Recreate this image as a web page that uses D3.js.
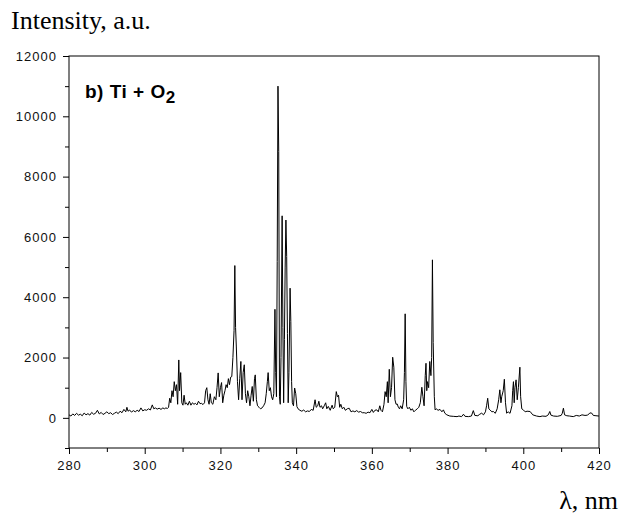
<!DOCTYPE html>
<html>
<head>
<meta charset="utf-8">
<script src="https://cdn.jsdelivr.net/npm/d3@7"></script>
<style>
  body { margin: 0; background: #fff; }
  svg { display: block; }
  .tick text { font-family: "Liberation Sans", Arial, sans-serif; font-size: 13px; letter-spacing: 1px; fill: #111; }
</style>
</head>
<body>
<svg id="chart" width="623" height="515"></svg>
<script>
// emission spectrum (nm, a.u.)
var wavelength = [
  280.0, 280.5, 281.0, 281.5, 282.0, 282.5, 283.0, 283.5, 284.0, 284.5,
  285.0, 285.5, 286.0, 286.5, 287.0, 287.5, 288.0, 288.5, 289.0, 289.5,
  290.0, 290.5, 291.0, 291.5, 292.0, 292.5, 293.0, 293.5, 294.0, 294.5,
  295.0, 295.3, 295.6, 296.0, 296.5, 297.0, 297.5, 298.0, 298.5, 299.0,
  299.5, 300.0, 300.5, 301.0, 301.5, 302.0, 302.4, 302.8, 303.3, 303.8,
  304.3, 304.8, 305.2, 305.6, 306.0, 306.3, 306.6, 306.9, 307.2, 307.5,
  307.8, 308.1, 308.4, 308.7, 309.0, 309.2, 309.5, 309.8, 310.1, 310.4,
  310.7, 311.0, 311.4, 311.8, 312.2, 312.6, 313.0, 313.4, 313.8, 314.2,
  314.6, 315.0, 315.4, 315.8, 316.1, 316.4, 316.7, 317.0, 317.3, 317.6,
  318.0, 318.4, 318.8, 319.1, 319.4, 319.7, 320.0, 320.3, 320.6, 320.9,
  321.2, 321.5, 321.8, 322.1, 322.4, 322.7, 323.0, 323.3, 323.6, 323.8,
  324.0, 324.2, 324.5, 324.8, 325.1, 325.4, 325.7, 326.0, 326.3, 326.6,
  326.9, 327.2, 327.5, 327.8, 328.1, 328.4, 328.7, 329.0, 329.2, 329.5,
  329.8, 330.2, 330.6, 331.0, 331.4, 331.8, 332.1, 332.4, 332.6, 332.9,
  333.2, 333.5, 333.8, 334.1, 334.4, 334.6, 334.8, 335.0, 335.2, 335.4,
  335.6, 335.8, 336.0, 336.3, 336.5, 336.7, 336.9, 337.1, 337.3, 337.5,
  337.7, 337.9, 338.1, 338.4, 338.6, 338.8, 339.0, 339.3, 339.6, 339.9,
  340.2, 340.5, 341.0, 341.5, 342.0, 342.5, 343.0, 343.5, 344.0, 344.5,
  345.0, 345.3, 345.7, 346.0, 346.3, 346.7, 347.0, 347.5, 347.8, 348.1,
  348.5, 349.0, 349.5, 349.8, 350.2, 350.6, 350.9, 351.2, 351.5, 351.8,
  352.2, 352.6, 353.0, 353.5, 354.0, 354.5, 355.0, 355.5, 356.0, 356.5,
  357.0, 357.5, 358.0, 358.5, 359.0, 359.5, 360.0, 360.4, 360.8, 361.3,
  361.7, 362.1, 362.4, 362.8, 363.2, 363.5, 363.8, 364.1, 364.3, 364.6,
  364.9, 365.2, 365.5, 365.8, 366.1, 366.4, 366.7, 367.0, 367.3, 367.6,
  368.0, 368.4, 368.6, 368.8, 369.0, 369.2, 369.5, 369.9, 370.3, 370.7,
  371.1, 371.5, 372.0, 372.4, 372.8, 373.2, 373.5, 373.8, 374.1, 374.3,
  374.5, 374.7, 375.0, 375.3, 375.6, 375.8, 376.0, 376.2, 376.5, 376.7,
  377.0, 377.5, 378.0, 378.5, 378.9, 379.3, 379.8, 380.6, 381.5, 382.5,
  383.0, 383.7, 384.2, 384.6, 385.5, 386.3, 386.8, 387.2, 388.0, 388.5,
  389.0, 389.5, 390.0, 390.3, 390.6, 390.9, 391.2, 391.7, 392.1, 392.6,
  393.1, 393.5, 393.8, 394.1, 394.3, 394.7, 395.0, 395.3, 395.6, 396.0,
  396.5, 397.0, 397.2, 397.4, 397.6, 397.8, 398.1, 398.4, 398.7, 399.1,
  399.3, 399.6, 400.0, 400.5, 401.0, 401.8, 402.5, 403.5, 404.4, 405.0,
  406.0, 406.6, 407.0, 407.3, 408.0, 409.0, 410.0, 410.3, 410.6, 410.9,
  411.5, 412.2, 413.2, 414.0, 414.8, 415.5, 416.3, 417.0, 417.6, 418.1,
  418.5, 419.2, 420.0
];
var intensity = [
  100, 60, 130, 80, 150, 90, 120, 70, 160, 100,
  140, 90, 180, 120, 150, 250, 130, 180, 110, 150,
  200, 140, 170, 110, 150, 190, 140, 220, 170, 280,
  200, 350, 220, 260, 190, 240, 200, 250, 210, 330,
  230, 270, 250, 300, 260, 430, 300, 330, 290, 320,
  280, 330, 300, 330, 310, 350, 650, 500, 900, 700,
  1200, 900, 1100, 450, 1920, 900, 1500, 500, 420, 750,
  450, 500, 420, 550, 420, 500, 450, 480, 430, 550,
  470, 480, 440, 500, 900, 1000, 600, 450, 800, 500,
  450, 700, 600, 1000, 1490, 700, 1000, 1170, 500, 750,
  900, 1100, 1000, 1300, 1100, 1350, 1370, 2000, 2900, 5050,
  3000, 2350, 1200, 600, 1300, 1870, 600, 1500, 1760, 800,
  500, 900, 700, 400, 750, 1040, 550, 1300, 1425, 600,
  400, 350, 300, 330, 400, 500, 800, 1200, 1500, 900,
  1000, 700, 600, 800, 3600, 1500, 700, 5180, 11000, 8830,
  700, 450, 2000, 6700, 3000, 500, 2600, 5000, 6560, 5350,
  2800, 500, 1500, 4300, 3190, 1200, 500, 400, 990, 800,
  375, 300, 250, 220, 260, 200, 230, 210, 280, 250,
  600, 350, 400, 550, 350, 400, 300, 420, 500, 300,
  380, 250, 420, 300, 350, 870, 700, 750, 350, 450,
  300, 350, 250, 300, 320, 200, 230, 200, 240, 190,
  210, 170, 170, 150, 190, 170, 280, 180, 250, 265,
  200, 400, 250, 200, 450, 870, 700, 1200, 500, 1610,
  700, 1000, 2010, 1680, 600, 450, 460, 350, 300, 400,
  300, 600, 1500, 3450, 1200, 380, 300, 350, 250, 300,
  200, 250, 300, 350, 500, 1015, 700, 400, 1400, 1810,
  900, 1200, 1000, 1870, 1400, 2000, 5240, 2500, 700, 265,
  300, 250, 280, 200, 265, 150, 100, 60, 50, 40,
  60, 40, 120, 50, 40, 60, 240, 80, 70, 120,
  155, 100, 200, 400, 650, 300, 265, 200, 210, 150,
  300, 600, 930, 500, 700, 900, 1280, 500, 155, 200,
  150, 400, 900, 1200, 500, 1000, 1260, 600, 1000, 1680,
  700, 300, 265, 200, 220, 210, 100, 60, 40, 60,
  50, 100, 210, 90, 60, 50, 80, 150, 320, 100,
  70, 60, 40, 80, 60, 100, 80, 90, 165, 155,
  80, 70, 60
];

var xTicks = [280, 300, 320, 340, 360, 380, 400, 420];
var xMinor = [290, 310, 330, 350, 370, 390, 410];
var yTicks = [0, 2000, 4000, 6000, 8000, 10000, 12000];
var yMinor = [-1000, 1000, 3000, 5000, 7000, 9000, 11000];

var margin = {left: 69, top: 56, right: 24, bottom: 67};
var width = 623 - margin.left - margin.right;
var height = 515 - margin.top - margin.bottom;

var svg = d3.select("#chart");
var g = svg.append("g")
  .attr("transform", "translate(" + margin.left + "," + margin.top + ")");

var x = d3.scaleLinear().domain([280, 420]).range([0, width]);
var y = d3.scaleLinear().domain([-1000, 12000]).range([height, 0]);

// minor ticks first, then the labelled ones on top
g.append("g")
  .attr("transform", "translate(0," + height + ")")
  .call(d3.axisBottom(x).tickValues(xMinor).tickSize(4).tickFormat(""))
  .call(function(a) { a.select(".domain").remove(); });

g.append("g")
  .call(d3.axisLeft(y).tickValues(yMinor).tickSize(4).tickFormat(""))
  .call(function(a) { a.select(".domain").remove(); });

g.append("g")
  .attr("transform", "translate(0," + height + ")")
  .call(d3.axisBottom(x).tickValues(xTicks).tickSize(6).tickPadding(7).tickFormat(d3.format("d")))
  .call(function(a) { a.select(".domain").remove(); });

g.append("g")
  .call(d3.axisLeft(y).tickValues(yTicks).tickSize(6).tickPadding(6).tickFormat(d3.format("d")))
  .call(function(a) { a.select(".domain").remove(); });

// frame
g.append("rect")
  .attr("width", width)
  .attr("height", height)
  .attr("fill", "none")
  .attr("stroke", "#000")
  .attr("stroke-width", 1);

var pts = wavelength.map(function(w, i) { return [w, intensity[i]]; });

var line = d3.line()
  .x(function(d) { return x(d[0]); })
  .y(function(d) { return y(d[1]); });

g.append("path")
  .datum(pts)
  .attr("d", line)
  .attr("fill", "none")
  .attr("stroke", "#000")
  .attr("stroke-width", 1);

// panel label
var lbl = g.append("text")
  .attr("x", 16)
  .attr("y", 42)
  .attr("font-family", "Liberation Sans, Arial, sans-serif")
  .attr("font-weight", "bold")
  .attr("font-size", 19)
  .attr("letter-spacing", 0.5)
  .attr("fill", "#000");
lbl.append("tspan").text("b) Ti + O");
lbl.append("tspan").attr("dy", 5).attr("font-size", 17).text("2");

// axis titles
svg.append("text")
  .attr("x", 11)
  .attr("y", 29)
  .attr("font-family", "Liberation Serif, Times New Roman, serif")
  .attr("font-size", 26)
  .text("Intensity, a.u.");

svg.append("text")
  .attr("x", 618)
  .attr("y", 509)
  .attr("text-anchor", "end")
  .attr("font-family", "Liberation Serif, Times New Roman, serif")
  .attr("font-size", 26)
  .text("λ, nm");
</script>
</body>
</html>
